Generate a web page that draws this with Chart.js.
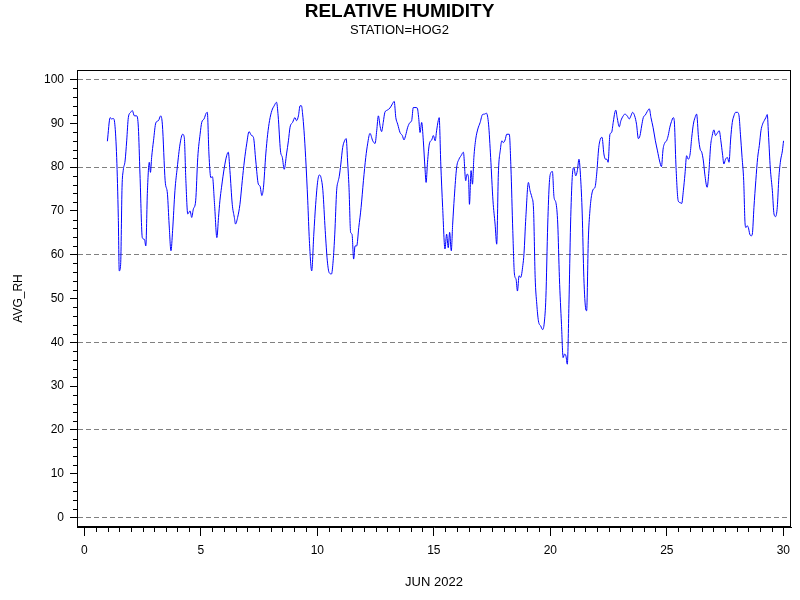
<!DOCTYPE html>
<html>
<head>
<meta charset="utf-8">
<script src="https://cdn.jsdelivr.net/npm/chart.js@4.4.0/dist/chart.umd.min.js"></script>
<style>
html,body{margin:0;padding:0;background:#fff;}
#wrap{width:800px;height:600px;}
</style>
</head>
<body>
<div id="wrap"><canvas id="c" width="800" height="600"></canvas></div>
<script>
// ---- DATA ----
const chartTitle = 'RELATIVE HUMIDITY';
const chartSubtitle = 'STATION=HOG2';
const xAxisLabel = 'JUN 2022';
const yAxisLabel = 'AVG_RH';
const xTickValues = [0, 5, 10, 15, 20, 25, 30];
const yTickValues = [0, 10, 20, 30, 40, 50, 60, 70, 80, 90, 100];

// day of month (fractional)
const days = [
  0.99,1.11,1.17,1.24,1.31,1.39,1.46,1.50,1.56,1.62,
  1.67,1.75,1.82,1.89,1.99,2.06,2.15,2.25,2.32,2.39,
  2.49,2.58,2.64,2.71,2.79,2.84,2.89,2.97,3.07,3.18,
  3.28,3.35,3.47,3.57,3.64,3.72,3.79,3.89,3.99,4.11,
  4.22,4.29,4.36,4.44,4.54,4.61,4.68,4.78,4.87,4.97,
  5.04,5.14,5.23,5.28,5.35,5.43,5.50,5.59,
  5.69,5.76,5.82,5.89,6.01,6.11,6.18,6.25,6.35,6.44,
  6.49,6.58,6.68,6.78,6.87,6.97,7.07,7.18,7.26,7.36,
  7.47,7.54,7.62,7.69,7.79,7.87,7.95,8.05,8.15,8.25,
  8.32,8.42,8.50,8.58,8.68,8.76,8.83,8.94,9.04,9.11,
  9.19,9.26,9.32,9.37,9.43,9.50,9.59,9.66,9.76,9.85,
  9.93,10.02,10.09,10.16,10.24,10.34,10.43,10.51,10.61,
  10.68,10.75,10.83,10.90,10.94,11.01,11.09,11.17,11.24,11.30,
  11.36,11.43,11.49,11.56,11.62,11.69,11.78,11.88,11.98,12.08,
  12.16,12.26,12.38,12.48,12.55,12.62,12.70,12.76,12.83,12.90,
  13.00,13.12,13.22,13.30,13.37,13.45,13.55,13.65,13.72,13.79,
  13.88,13.98,14.05,14.12,14.19,14.29,14.35,14.41,14.48,14.55,
  14.62,14.67,14.73,14.81,14.91,14.98,15.06,15.12,15.19,15.23,
  15.30,15.38,
  15.48,15.55,15.62,15.68,15.75,15.81,15.88,15.98,16.08,16.17,
  16.27,16.37,16.43,16.49,16.53,16.60,16.66,16.72,16.80,16.89,
  16.99,17.09,17.18,17.26,17.35,17.44,17.54,17.63,17.70,17.77,
  17.86,17.92,17.98,18.06,18.13,18.24,18.31,18.39,18.46,18.53,
  18.59,18.66,18.73,18.82,18.87,18.95,19.06,19.13,19.21,19.28,
  19.35,19.42,19.49,19.59,19.67,19.74,19.81,19.89,19.96,20.03,
  20.09,20.16,20.24,20.32,20.39,
  20.48,20.55,20.61,20.67,20.73,20.80,20.87,20.94,21.01,21.09,
  21.16,21.23,21.30,21.37,21.44,21.52,21.56,21.63,21.70,21.77,
  21.85,21.92,21.99,22.08,22.15,22.22,22.30,22.37,22.43,22.48,
  22.56,22.63,22.70,22.77,22.81,22.87,22.96,23.03,23.13,23.20,
  23.30,23.39,23.46,23.53,23.62,23.70,23.78,23.85,23.92,23.99,
  24.08,24.16,24.25,24.32,24.41,24.51,24.60,24.69,24.77,24.84,
  24.92,24.99,25.06,25.13,25.20,25.28,25.33,25.39,
  25.49,25.57,25.64,25.71,25.78,25.85,25.92,26.00,26.07,26.14,
  26.21,26.28,26.36,26.43,26.50,26.57,26.63,26.73,26.81,26.88,
  26.95,27.02,27.09,27.16,27.25,27.32,27.39,27.45,27.52,27.60,
  27.67,27.74,27.81,27.88,27.95,28.03,28.10,28.16,28.23,28.30,
  28.36,28.40,28.44,28.50,28.56,28.62,28.67,28.74,28.82,28.90,
  28.97,29.04,29.11,29.18,29.25,29.31,29.37,29.44,29.53,29.60,
  29.67,29.74,29.81,29.88,29.96,30.01
];

// average relative humidity (%)
const avgRH = [
  85.9,91.3,91.0,91.1,89.8,82.2,68.5,56.3,57.8,75.4,
  79.2,81.4,86.0,91.3,92.5,92.9,91.7,91.7,89.1,78.4,
  63.9,63.5,62.0,74.6,81.1,78.8,82.2,86.0,90.1,90.6,
  91.7,89.8,76.9,73.8,67.0,60.9,65.5,74.6,79.9,85.3,
  87.5,86.8,76.9,69.3,70.0,68.5,70.4,72.3,82.2,87.5,
  90.2,91.0,92.3,92.5,83.0,77.6,77.8,71.5,
  63.9,68.5,72.3,75.4,79.9,82.6,83.4,79.2,71.5,68.5,
  67.0,68.5,71.5,76.9,81.4,85.3,88.1,87.2,86.8,81.4,
  76.1,75.7,73.5,75.4,83.0,87.5,90.6,92.9,94.0,94.8,
  91.7,83.7,82.2,79.5,83.0,86.0,89.1,90.2,91.3,90.6,
  91.7,94.0,94.0,92.1,88.3,82.2,72.3,63.2,56.3,64.7,
  71.5,76.9,78.2,77.6,74.6,65.5,58.6,55.9,55.6,
  58.6,64.7,74.6,76.9,77.8,80.7,84.5,86.0,86.5,81.4,
  75.4,65.1,64.7,59.0,62.0,62.0,66.2,70.8,76.9,82.2,
  85.3,87.7,86.0,85.4,88.3,91.7,89.2,88.1,90.2,92.5,
  93.0,93.5,94.4,95.0,91.3,89.8,87.9,87.2,86.2,87.2,
  89.1,90.2,90.6,93.6,93.6,93.5,91.3,87.9,90.2,86.0,
  79.9,76.5,81.1,85.3,86.2,87.2,86.0,88.3,90.6,91.3,
  80.7,70.8,
  61.3,64.7,61.6,65.1,60.9,67.0,73.1,79.9,81.8,82.6,
  83.4,76.9,78.4,77.6,71.5,79.2,76.1,82.2,86.4,88.7,
  90.2,92.0,92.1,92.3,89.8,82.2,72.3,67.0,62.4,78.4,
  84.1,86.0,85.6,86.2,87.5,87.5,79.9,65.5,55.6,54.4,
  51.7,55.2,54.8,57.5,60.2,68.5,76.5,74.6,73.1,70.4,
  54.8,48.7,44.9,43.7,42.9,44.4,50.2,67.0,76.5,78.8,
  79.0,73.1,71.9,67.0,54.8,
  44.1,36.5,37.3,36.9,35.0,48.7,67.0,77.6,79.9,78.0,
  79.2,81.8,77.6,69.3,54.8,47.6,47.2,63.2,70.0,73.5,
  75.0,75.4,78.4,84.5,86.4,86.8,83.0,81.8,81.8,81.1,
  87.5,87.9,90.2,92.5,93.0,91.3,89.2,90.6,91.7,92.1,
  91.7,91.0,91.7,92.5,91.7,89.8,86.5,87.2,89.4,91.3,
  91.9,92.7,93.3,91.3,89.1,86.0,83.7,81.4,80.1,84.1,
  85.6,86.0,87.2,89.1,90.4,91.3,89.8,80.7,
  72.3,71.9,71.7,74.6,78.4,82.6,81.8,83.0,86.8,89.8,
  91.3,92.1,86.8,84.1,83.4,81.4,78.4,75.4,79.2,84.9,
  87.2,88.5,87.2,87.7,88.3,86.0,83.0,80.7,81.8,82.2,
  81.1,86.4,90.2,91.7,92.5,92.5,91.7,87.5,82.2,76.9,
  67.0,66.2,66.6,66.2,64.7,64.3,64.7,70.8,76.9,82.2,
  84.9,88.3,89.8,90.6,91.3,92.0,86.8,79.9,74.6,69.3,
  68.7,70.8,77.6,81.4,83.7,86.0
];

// ---- CHART ----
const FONT = "'Liberation Sans', Arial, Helvetica, sans-serif";
Chart.defaults.font.family = FONT;
Chart.defaults.color = '#000';

const frameAndMinorTicks = {
  id: 'frameAndMinorTicks',
  afterDraw(chart) {
    const ctx = chart.ctx;
    const a = chart.chartArea;
    const xs = chart.scales.x, ys = chart.scales.y;
    const L = Math.round(a.left), R = Math.round(a.right), T = Math.round(a.top), B = Math.round(a.bottom);
    ctx.save();
    ctx.setLineDash([]);
    ctx.strokeStyle = '#000';
    ctx.lineWidth = 1;
    ctx.strokeRect(L + 0.5, T + 0.5, R - L - 1, B - T - 1);
    ctx.beginPath();
    for (let v = 0; v <= 100; v += 2) {
      if (v % 10 === 0) continue;
      const py = Math.round(ys.getPixelForValue(v)) + 0.5;
      ctx.moveTo(L - 4, py);
      ctx.lineTo(L, py);
    }
    for (let v = 0; v <= 30; v += 0.5) {
      if (v % 5 === 0) continue;
      const px = Math.round(xs.getPixelForValue(v)) + 0.5;
      ctx.moveTo(px, B);
      ctx.lineTo(px, B + 5);
    }
    ctx.stroke();
    ctx.restore();
  }
};

new Chart(document.getElementById('c'), {
  type: 'line',
  data: {
    datasets: [{
      label: yAxisLabel,
      data: days.map((d, i) => ({ x: d, y: avgRH[i] })),
      borderColor: '#0000ff',
      borderWidth: 1,
      pointRadius: 0,
      fill: false,
      cubicInterpolationMode: 'monotone'
    }]
  },
  options: {
    responsive: false,
    animation: false,
    devicePixelRatio: 1,
    events: [],
    layout: { padding: { left: 8, right: 9, top: 0, bottom: 0 } },
    plugins: {
      legend: { display: false },
      tooltip: { enabled: false },
      title: {
        display: true,
        text: chartTitle,
        color: '#000',
        font: { family: FONT, size: 19, weight: 'bold', lineHeight: 1.1 },
        padding: { top: 1.5, bottom: 0 }
      },
      subtitle: {
        display: true,
        text: chartSubtitle,
        color: '#000',
        font: { family: FONT, size: 13, weight: 'normal', lineHeight: 1.0 },
        padding: { top: 1.5, bottom: 33.1 }
      }
    },
    scales: {
      x: {
        type: 'linear',
        position: 'bottom',
        min: -0.313,
        max: 30.33,
        afterBuildTicks(scale) { scale.ticks = xTickValues.map(v => ({ value: v })); },
        afterFit(scale) { scale.height = 73; },
        ticks: {
          color: '#000',
          font: { family: FONT, size: 12 },
          padding: 7,
          maxRotation: 0,
          autoSkip: false
        },
        grid: {
          drawOnChartArea: false,
          drawTicks: true,
          tickLength: 9,
          tickColor: '#000',
          tickWidth: 1,
          tickBorderDash: []
        },
        border: { display: true, color: '#000', width: 1 },
        title: {
          display: true,
          text: xAxisLabel,
          color: '#000',
          font: { family: FONT, size: 13 },
          padding: { top: 0, bottom: 10 }
        }
      },
      y: {
        type: 'linear',
        position: 'left',
        min: -2.17,
        max: 102.17,
        afterBuildTicks(scale) { scale.ticks = yTickValues.map(v => ({ value: v })); },
        afterFit(scale) { scale.width = 69; },
        ticks: {
          color: '#000',
          font: { family: FONT, size: 12 },
          padding: 6
        },
        grid: {
          drawOnChartArea: true,
          drawTicks: true,
          tickLength: 7,
          color: (c) => (c.tick && c.tick.value % 20 === 0) ? '#808080' : 'rgba(0,0,0,0)',
          lineWidth: 1,
          tickColor: '#000',
          tickWidth: 1,
          tickBorderDash: []
        },
        border: { display: true, color: '#000', width: 1, dash: [5, 3] },
        title: {
          display: true,
          text: yAxisLabel,
          color: '#000',
          font: { family: FONT, size: 12 },
          padding: { top: 3, bottom: 0 }
        }
      }
    }
  },
  plugins: [frameAndMinorTicks]
});
</script>
</body>
</html>
